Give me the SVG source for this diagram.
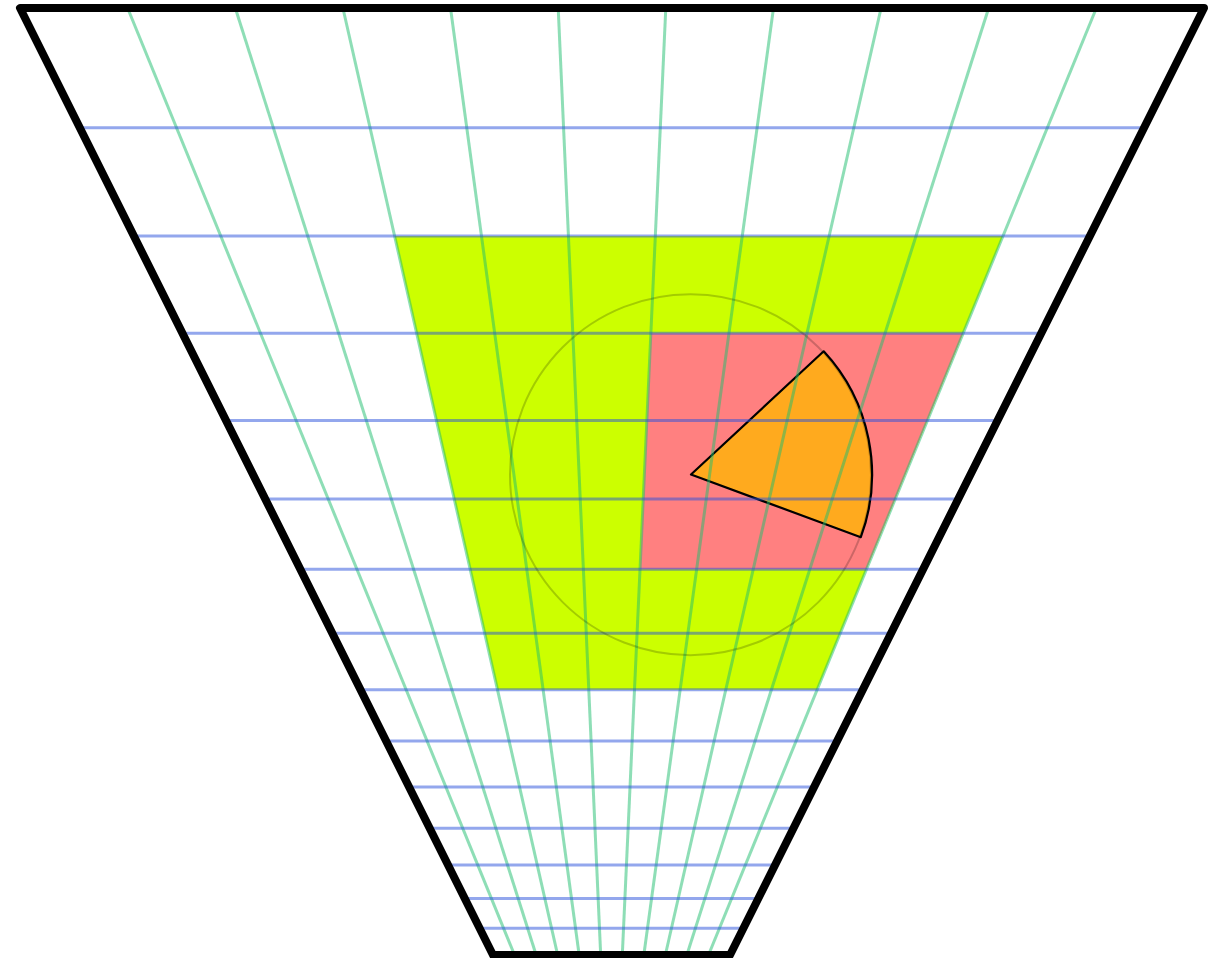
<svg xmlns="http://www.w3.org/2000/svg" width="1213" height="958" viewBox="0 0 1213 958">
<style>
.g{stroke:rgb(30,190,110);stroke-opacity:0.5;stroke-width:3;fill:none}
.b{stroke:rgb(40,80,220);stroke-opacity:0.5;stroke-width:3;fill:none}
</style>
<rect width="1213" height="958" fill="#fff"/>
<g id="regions">
<polygon id="green-region" points="394.6,236 1003,236 817.2,689.7 497.5,689.7" fill="#CCFF00"/>
<polygon id="red-region" points="650.9,333.3 963.1,333.3 866.5,569.3 640,569.3" fill="#FF8080"/>
</g>
<g id="sector">
<path d="M691,474.5 L823.7,351.3 A181,181 0 0 1 860.8,537.2 Z" fill="#FFAA1E" stroke="#000" stroke-width="2.2" stroke-linejoin="round"/>
</g>
<g id="grid">
<g id="radial-lines">
<line class="g" x1="127.6" y1="8" x2="513.7" y2="953"/>
<line class="g" x1="235.3" y1="8" x2="535.5" y2="953"/>
<line class="g" x1="342.9" y1="8" x2="557.2" y2="953"/>
<line class="g" x1="450.5" y1="8" x2="578.9" y2="953"/>
<line class="g" x1="558.2" y1="8" x2="600.6" y2="953"/>
<line class="g" x1="665.8" y1="8" x2="622.4" y2="953"/>
<line class="g" x1="773.5" y1="8" x2="644.1" y2="953"/>
<line class="g" x1="881.1" y1="8" x2="665.8" y2="953"/>
<line class="g" x1="988.7" y1="8" x2="687.5" y2="953"/>
<line class="g" x1="1096.4" y1="8" x2="709.3" y2="953"/>
</g>
<g id="horizontal-lines">
<line class="b" x1="79.8" y1="127.7" x2="1144.1" y2="127.7"/>
<line class="b" x1="133.9" y1="236" x2="1089.9" y2="236"/>
<line class="b" x1="182.5" y1="333.3" x2="1041.2" y2="333.3"/>
<line class="b" x1="226" y1="420.5" x2="997.5" y2="420.5"/>
<line class="b" x1="265.2" y1="499" x2="958.2" y2="499"/>
<line class="b" x1="300.4" y1="569.3" x2="923.1" y2="569.3"/>
<line class="b" x1="332.3" y1="633.3" x2="891" y2="633.3"/>
<line class="b" x1="360.5" y1="689.7" x2="862.8" y2="689.7"/>
<line class="b" x1="386.1" y1="741" x2="837.1" y2="741"/>
<line class="b" x1="409.1" y1="787" x2="814.1" y2="787"/>
<line class="b" x1="429.7" y1="828.3" x2="793.4" y2="828.3"/>
<line class="b" x1="448" y1="865" x2="775.1" y2="865"/>
<line class="b" x1="464.8" y1="898.5" x2="758.3" y2="898.5"/>
<line class="b" x1="479.7" y1="928.3" x2="743.4" y2="928.3"/>
</g>
</g>
<g id="circle">
<circle cx="690.5" cy="474.7" r="180.5" fill="none" stroke="#000" stroke-opacity="0.2" stroke-width="2"/>
</g>
<g id="outline">
<polygon points="20,8 1204,8 730,955 493,955" fill="none" stroke="#000" stroke-width="8" stroke-linejoin="round"/>
</g>
</svg>
